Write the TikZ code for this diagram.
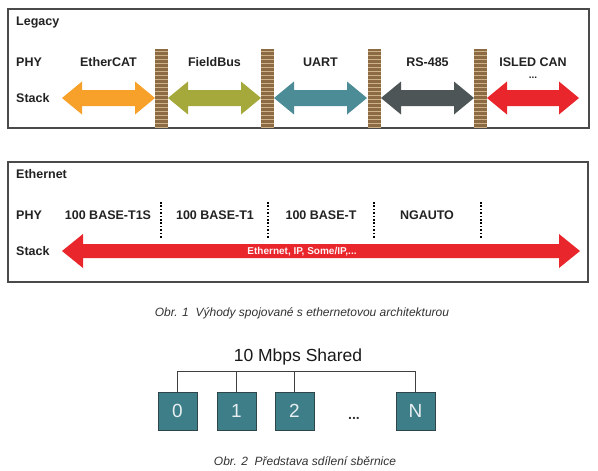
\documentclass[tikz,border=0pt]{standalone}
\usepackage{fontspec}
\setmainfont{Liberation Sans}
\definecolor{txt}{HTML}{222222}
\definecolor{frame}{HTML}{4A4A4A}
\definecolor{aorange}{HTML}{F7A12B}
\definecolor{aolive}{HTML}{A5A83B}
\definecolor{ateal}{HTML}{4B8C97}
\definecolor{agray}{HTML}{4E5557}
\definecolor{ared}{HTML}{E8262C}
\definecolor{sepbrown}{HTML}{8C6A43}
\definecolor{sepstripe}{HTML}{CDB187}
\definecolor{boxteal}{HTML}{3D7E89}
\definecolor{boxedge}{HTML}{2E4549}
\definecolor{captxt}{HTML}{333333}
\newcommand\DblArr[7]{% x1 x2 y shafthalf headhalf headlen color
  \fill[#7] (#1,#3) -- ({#1+#6},{#3-#5}) -- ({#1+#6},{#3-#4}) -- ({#2-#6},{#3-#4})
    -- ({#2-#6},{#3-#5}) -- (#2,#3) -- ({#2-#6},{#3+#5}) -- ({#2-#6},{#3+#4})
    -- ({#1+#6},{#3+#4}) -- ({#1+#6},{#3+#5}) -- cycle;}
\newcommand\SepBar[1]{%
  \fill[sepbrown] (#1,49) rectangle ({#1+13},128);
  \foreach \k in {0,...,19} \draw[sepstripe,line width=0.8pt] (#1,{51+4*\k}) -- ({#1+13},{51+4*\k});}
\begin{document}
\begin{tikzpicture}[x=1pt,y=-1pt,
  lbl/.style={font=\fontsize{12.5}{14}\selectfont\bfseries,text=txt,inner sep=0pt},
  panel/.style={draw=frame,line width=1.5pt},
  dots/.style={line width=1.6pt,dash pattern=on 1.6pt off 1.8pt},
  captext/.style={font=\fontsize{12}{14}\selectfont\itshape,text=captxt,inner sep=0pt,anchor=base},
  busline/.style={draw=black!75,line width=1.1pt},
  station/.style={draw=boxedge,fill=boxteal,line width=1pt,minimum width=39pt,minimum height=38pt,inner sep=0pt,
    text=white!88!boxteal,font=\fontsize{19}{21}\selectfont}]
\useasboundingbox (0,0) rectangle (598,471);
\fill[white] (0,0) rectangle (598,471);
% ---------- Legacy panel ----------
\draw[panel] (8,9) rectangle (589,128);
\node[lbl,anchor=base west] (leg) at (16,26) {Legacy};
\node[lbl,anchor=base west] (phy1) at (16,66.7) {PHY};
\node[lbl,anchor=base west] (stk1) at (16,102.7) {Stack};
\DblArr{62}{155}{98}{8}{16.5}{20}{aorange}
\DblArr{168}{261}{98}{8}{16.5}{20}{aolive}
\DblArr{274}{367}{98}{8}{16.5}{20}{ateal}
\DblArr{381}{474}{98}{8}{16.5}{20}{agray}
\DblArr{487}{579}{98}{8}{16.5}{20}{ared}
\SepBar{155}
\SepBar{261}
\SepBar{367.5}
\SepBar{474}
\node[lbl,anchor=base] (ecat) at (108.5,66.7) {EtherCAT};
\node[lbl,anchor=base] (fbus) at (214.5,66.7) {FieldBus};
\node[lbl,anchor=base] (uart) at (320.5,66.7) {UART};
\node[lbl,anchor=base] (rs) at (427.5,66.7) {RS-485};
\node[lbl,anchor=base] (isled) at (533,66.7) {ISLED CAN};
\node[lbl,anchor=base,font=\fontsize{10}{12}\selectfont\bfseries] (isdots) at (533,78.5) {...};
% ---------- Ethernet panel ----------
\draw[panel] (8,162) rectangle (588,282);
\node[lbl,anchor=base west] (eth) at (16,178.3) {Ethernet};
\node[lbl,anchor=base west] (phy2) at (16,219.5) {PHY};
\node[lbl,anchor=base west] (stk2) at (16,255) {Stack};
\node[lbl,anchor=base] (t1s) at (108,219.5) {100 BASE-T1S};
\node[lbl,anchor=base] (t1) at (215,219.5) {100 BASE-T1};
\node[lbl,anchor=base] (tx) at (321,219.5) {100 BASE-T};
\node[lbl,anchor=base] (ng) at (427,219.5) {NGAUTO};
\foreach \xx in {161,268,374,481} \draw[dots] (\xx,202) -- (\xx,238);
\DblArr{62}{580}{251}{7}{17}{21}{ared}
\node[anchor=base,inner sep=0pt,text=white!95!ared,font=\fontsize{10}{11}\selectfont\bfseries] (ethtxt) at (302,254.7) {Ethernet, IP, Some/IP,...};
% ---------- captions ----------
\node[captext] (cap1) at (302,316) {Obr. 1\ \ Výhody spojované s ethernetovou architekturou};
% ---------- shared bus ----------
\node[anchor=base,inner sep=0pt,text=black!90,font=\fontsize{17.5}{20}\selectfont] (bustitle) at (298,361.7) {10 Mbps Shared};
\node[station] (b0) at (177.5,411) {0};
\node[station] (b1) at (236.5,411) {1};
\node[station] (b2) at (294.5,411) {2};
\node[station] (bN) at (415.5,411) {N};
\node[inner sep=0pt,anchor=base,font=\fontsize{14}{16}\selectfont\bfseries,text=black!80] (bdots) at (354,419) {...};
\path (b0.north) ++(0,-20) coordinate (busL);
\draw[busline] (b0.north) -- (busL) -| (bN.north);
\draw[busline] (b1.north) -- (b1.north |- busL);
\draw[busline] (b2.north) -- (b2.north |- busL);
\node[captext] (cap2) at (305,465) {Obr. 2\ \ Představa sdílení sběrnice};
\end{tikzpicture}
\end{document}
